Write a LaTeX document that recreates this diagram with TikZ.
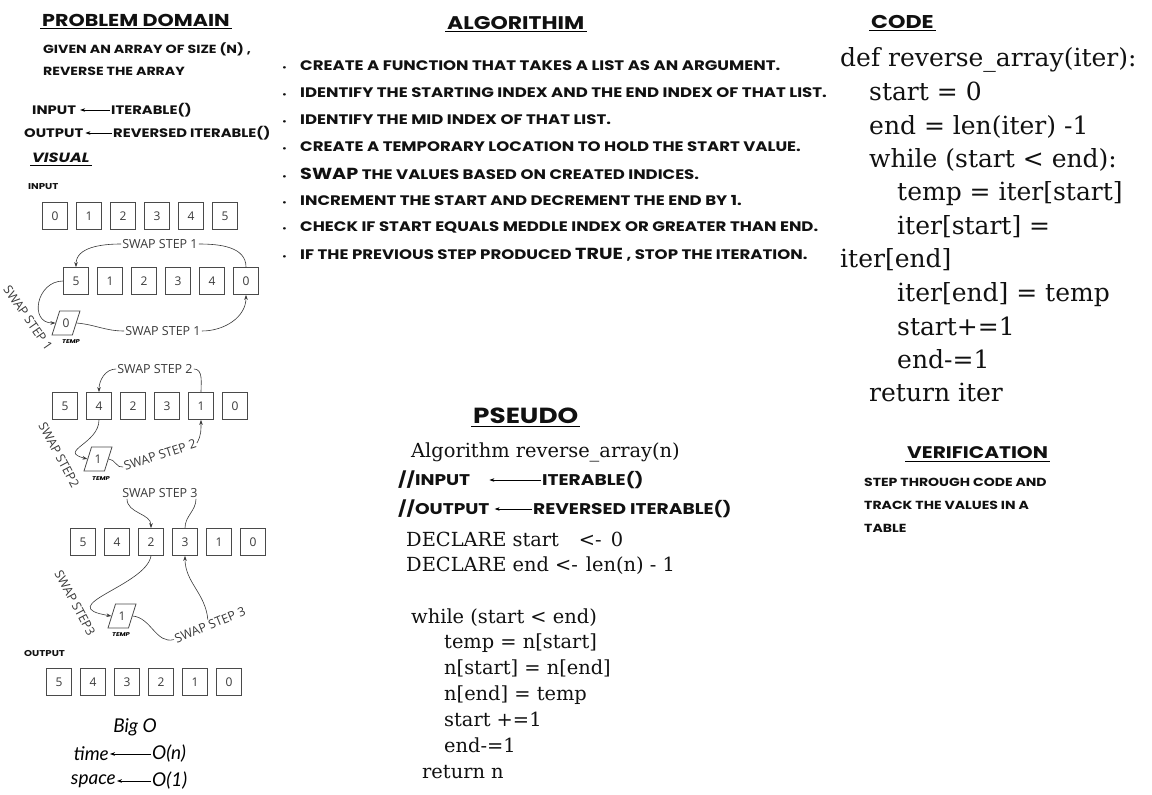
\documentclass[tikz,border=0pt]{standalone}
\usepackage{fontspec}
\setmainfont{DejaVu Serif}
\newfontfamily\handfont{Poppins}[FakeStretch=1.2]
\newfontfamily\cellfont{Open Sans}
\newfontfamily\bigofont{Lato}
\usetikzlibrary{shapes.geometric, arrows.meta, positioning, calc}
\definecolor{InkBlack}{HTML}{111111}
\definecolor{BoxGray}{HTML}{4A4A4A}
\definecolor{NoteGray}{HTML}{3A3A3A}

\begin{document}
\begin{tikzpicture}[x=1pt, y=-1pt,
    hand/.style={anchor=west, inner sep=1pt, text=InkBlack,
                 font=\handfont\bfseries\fontsize{#1}{#1}\selectfont},
    hand/.default=11,
    heading/.style={hand=#1, inner sep=2pt},
    cell/.style={draw=BoxGray, line width=0.8pt, minimum width=25pt, minimum height=27pt,
                 inner sep=0pt, text=NoteGray, font=\cellfont\fontsize{12}{12}\selectfont},
    tempbox/.style={trapezium, trapezium left angle=65, trapezium right angle=115,
                    trapezium stretches=true, draw=BoxGray, line width=0.8pt,
                    minimum width=28pt, minimum height=24pt, inner sep=0pt,
                    text=NoteGray, font=\cellfont\fontsize{12}{12}\selectfont},
    templbl/.style={inner sep=0pt, font=\handfont\bfseries\itshape\fontsize{5.5}{6}\selectfont},
    swaplbl/.style={inner sep=1pt, fill=white, text=NoteGray,
                    font=\cellfont\fontsize{12.5}{13}\selectfont},
    arr/.style={-{Stealth[length=5pt, width=3.6pt]}, line width=0.6pt},
    link/.style={line width=0.6pt, draw=NoteGray},
    codeline/.style={anchor=base west, inner sep=0pt, text=InkBlack,
                     font=\fontsize{25}{28}\selectfont},
    pseudoline/.style={anchor=base west, inner sep=0pt, text=InkBlack,
                       font=\fontsize{19.4}{22}\selectfont},
    bigo/.style={inner sep=1pt, font=\bigofont\itshape\fontsize{19}{19}\selectfont}]

\fill[white] (0,0) rectangle (1152,795);
\useasboundingbox (0,0) rectangle (1152,795);

% problem domain
\node[heading=17.2] (pdTitle) at (40,20) {PROBLEM DOMAIN};
\draw[line width=1pt] (pdTitle.south west) -- (pdTitle.south east);
\node[hand=11.8] (givenTxt) at (42,49) {GIVEN AN ARRAY OF SIZE (N) ,};
\node[hand=11.8] (reverseTxt) at (42,71) {REVERSE THE ARRAY};
\node[hand=12.3] (inLbl) at (31,110) {INPUT};
\node[hand=12.3] (iterLbl) at (110,110) {ITERABLE()};
\draw[arr] (iterLbl.west) -- ([xshift=3pt]inLbl.east);
\node[hand=12.3] (outLbl) at (23,133) {OUTPUT};
\node[hand=12.3] (revIterLbl) at (112,133) {REVERSED ITERABLE()};
\draw[arr] (revIterLbl.west) -- ([xshift=1pt]outLbl.east);
\node[heading=13.4] (visualTitle) at (30,158) {\itshape VISUAL};
\draw[line width=1pt] (visualTitle.south west) -- (visualTitle.south east);
\node[hand=8.5] (inSmall) at (27,187) {INPUT};

% arrays
\foreach \v [count=\i] in {0,1,2,3,4,5}
  \node[cell] (in\i) at ({55+34*(\i-1)},216) {\v};
\foreach \v [count=\i] in {5,1,2,3,4,0}
  \node[cell] (sa\i) at ({76+34*(\i-1)},281) {\v};
\foreach \v [count=\i] in {5,4,2,3,1,0}
  \node[cell] (sb\i) at ({65+34*(\i-1)},406) {\v};
\foreach \v [count=\i] in {5,4,2,3,1,0}
  \node[cell] (sc\i) at ({83+34*(\i-1)},542) {\v};
\node[hand=8.5] (outSmall) at (23,653) {OUTPUT};
\foreach \v [count=\i] in {5,4,3,2,1,0}
  \node[cell] (out\i) at ({59+34*(\i-1)},682) {\v};

% swap step 1
\node[swaplbl] (swapA1) at (160,244) {SWAP STEP 1};
\draw[link, arr] (swapA1.west) to[out=180, in=90] (sa1.north);
\draw[link] (swapA1.east) to[out=0, in=90] (sa6.north);
\node[tempbox] (tempA) at (66,323) {0};
\node[templbl] (tempAtxt) at (71,342) {TEMP};
\draw[link, arr] (sa1.west) to[out=180, in=180, looseness=1.6] (tempA.west);
\node[swaplbl] (swapA2) at (163,331) {SWAP STEP 1};
\draw[link] (tempA.east) to[out=-5, in=180] (swapA2.west);
\draw[link, arr] (swapA2.east) to[out=0, in=-90] (sa6.south);
\node[swaplbl, fill=none, rotate=-55] (swapA3) at (28,318) {SWAP STEP 1};

% swap step 2
\node[swaplbl] (swapB1) at (155,369) {SWAP STEP 2};
\draw[link, arr] (swapB1.west) to[out=180, in=90] (sb2.north);
\draw[link] (swapB1.east) to[out=0, in=90] (sb5.north);
\node[tempbox] (tempB) at (98,459) {1};
\node[templbl] (tempBtxt) at (101,479) {TEMP};
\draw[link, arr] (sb2.south) .. controls ($(sb2.south)+(0,24)$) and ($(tempB.west)+(-30,-8)$) .. (tempB.west);
\node[swaplbl, fill=none, rotate=18] (swapB2) at (160,455) {SWAP STEP 2};
\draw[link] (tempB.east) to[out=0, in=195] (swapB2.west);
\draw[link, arr] (swapB2.east) to[out=60, in=-90] (sb5.south);
\node[swaplbl, fill=none, rotate=-62] (swapB3) at (59,455) {SWAP STEP2};

% swap step 3
\node[swaplbl] (swapC1) at (160,493) {SWAP STEP 3};
\draw[link, arr] ([xshift=-33pt]swapC1.south) to[out=-90, in=90] (sc3.north);
\draw[link] ([xshift=36pt]swapC1.south) to[out=-90, in=90] (sc4.north);
\node[tempbox] (tempC) at (122,616) {1};
\node[templbl] (tempCtxt) at (121,635) {TEMP};
\draw[link, arr] (sc3.south) .. controls ($(sc3.south)+(-5,30)$) and ($(tempC.west)+(-60,-10)$) .. (tempC.west);
\node[swaplbl, fill=none, rotate=22] (swapC2) at (210,625) {SWAP STEP 3};
\draw[link] (tempC.east) to[out=-5, in=195] (swapC2.west);
\draw[link, arr] (swapC2.north) to[out=95, in=-90] (sc4.south);
\node[swaplbl, fill=none, rotate=-62] (swapC3) at (75,603) {SWAP STEP3};

% big o
\node[bigo] (bigOTitle) at (135,727) {Big O};
\node[bigo, anchor=east] (timeLbl) at (110,754) {time};
\node[bigo, anchor=west] (timeO) at (151,754) {O(n)};
\draw[arr] (timeO.west) -- (timeLbl.east);
\node[bigo, anchor=east] (spaceLbl) at (117,781) {space};
\node[bigo, anchor=west] (spaceO) at (151,781) {O(1)};
\draw[arr] (spaceO.west) -- (spaceLbl.east);

% algorithm
\node[heading=18.3] (algTitle) at (445,23) {ALGORITHIM};
\draw[line width=1pt] (algTitle.south west) -- (algTitle.south east);
\foreach \t [count=\i] in {
    {CREATE A FUNCTION THAT TAKES A LIST AS AN ARGUMENT.},
    {IDENTIFY THE STARTING INDEX AND THE END INDEX OF THAT LIST.},
    {IDENTIFY THE MID INDEX OF THAT LIST.},
    {CREATE A TEMPORARY LOCATION TO HOLD THE START VALUE.},
    {{\fontsize{16}{16}\selectfont SWAP} THE VALUES BASED ON CREATED INDICES.},
    {INCREMENT THE START AND DECREMENT THE END BY 1.},
    {CHECK IF START EQUALS MEDDLE INDEX OR GREATER THAN END.},
    {IF THE PREVIOUS STEP PRODUCED {\fontsize{16}{16}\selectfont TRUE} , STOP THE ITERATION.}}
  \node[hand=13.8] (alg\i) at (281,{66+26.9*(\i-1)})
    {\makebox[18pt][l]{\fontsize{8}{8}\selectfont\textbullet}\t};

% code
\node[heading=18.5] (codeTitle) at (869,22) {CODE};
\draw[line width=1pt] (codeTitle.south west) -- (codeTitle.south east);
\foreach \x/\y/\t in {
    840/66/{def reverse\_array(iter):},
    869/100/{start = 0},
    869/134/{end = len(iter) -1},
    869/167/{while (start < end):},
    897/200/{temp = iter[start]},
    897/234/{iter[start] =},
    840/267/{iter[end]},
    897/301/{iter[end] = temp},
    897/335/{start+=1},
    897/368/{end-=1},
    869/401/{return iter}}
  \node[codeline] (code\y) at (\x,\y) {\t};

% verification
\node[heading=16.8] (verTitle) at (905,453) {VERIFICATION};
\draw[line width=1pt] (verTitle.south west) -- (verTitle.south east);
\node[hand=11.7] (ver1) at (863,482) {STEP THROUGH CODE AND};
\node[hand=11.7] (ver2) at (863,505) {TRACK THE VALUES IN A};
\node[hand=11.7] (ver3) at (863,528) {TABLE};

% pseudo
\node[heading=21.9] (pseudoTitle) at (471,416) {PSEUDO};
\draw[line width=1pt] (pseudoTitle.south west) -- (pseudoTitle.south east);
\node[pseudoline] (pAlg) at (411,457) {Algorithm reverse\_array(n)};
\node[hand=15.5] (pIn) at (397,480) {//INPUT};
\node[hand=15.5] (pInIter) at (541,480) {ITERABLE()};
\draw[arr] (pInIter.west) -- ([xshift=18pt]pIn.east);
\node[hand=15.5] (pOut) at (397,509) {//OUTPUT};
\node[hand=15.5] (pOutIter) at (532,509) {REVERSED ITERABLE()};
\draw[arr] (pOutIter.west) -- ([xshift=4pt]pOut.east);
\foreach \x/\y/\t in {
    406/546/{DECLARE start\hspace{20pt}<-\hspace{9pt}0},
    406/571/{DECLARE end <-\hspace{8pt}len(n) - 1},
    411/623/{while (start < end)},
    444/648/{temp = n[start]},
    444/674/{n[start] = n[end]},
    444/700/{n[end] = temp},
    444/726/{start +=1},
    444/752/{end-=1},
    422/778/{return n}}
  \node[pseudoline] (pseudo\y) at (\x,\y) {\t};
\end{tikzpicture}
\end{document}
